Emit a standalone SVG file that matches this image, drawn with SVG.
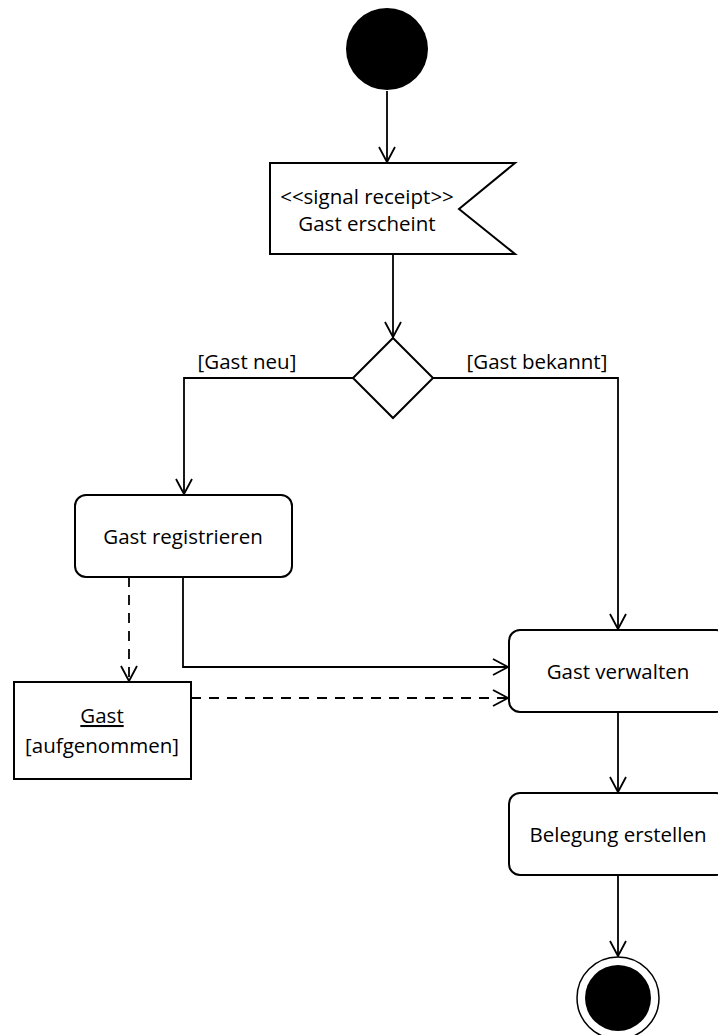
<svg xmlns="http://www.w3.org/2000/svg" width="718" height="1035" viewBox="0 0 718 1035">
  <style>
    .node { fill: #ffffff; stroke: #000000; stroke-width: 2; }
    .lbl { font-family: "Open Sans", "Liberation Sans", sans-serif; font-size: 20.5px; fill: #000000; text-anchor: middle; }
    .flow { fill: none; stroke: #000000; stroke-width: 1.8; }
    .dash { stroke-dasharray: 10 8; }
  </style>
  <defs>
    <marker id="open-arrow" markerUnits="userSpaceOnUse" markerWidth="20" markerHeight="20" viewBox="-16 -10 20 20" refX="0" refY="0" orient="auto">
      <path d="M -15 -8 L 0 0 L -15 8" fill="none" stroke="#000000" stroke-width="1.8"/>
    </marker>
  </defs>

  <rect width="718" height="1035" fill="#ffffff"/>

  <!-- connectors -->
  <g id="connectors">
    <path class="flow" d="M 387 91 L 387 162" marker-end="url(#open-arrow)"/>
    <path class="flow" d="M 393 253 L 393 337" marker-end="url(#open-arrow)"/>
    <path class="flow" d="M 353 378 L 184 378 L 184 494" marker-end="url(#open-arrow)"/>
    <path class="flow" d="M 433 378 L 618 378 L 618 629" marker-end="url(#open-arrow)"/>
    <path class="flow" d="M 183 577 L 183 667 L 508 667" marker-end="url(#open-arrow)"/>
    <path class="flow dash" d="M 129 577 L 129 681" marker-end="url(#open-arrow)"/>
    <path class="flow dash" d="M 191 698 L 508 698" marker-end="url(#open-arrow)"/>
    <path class="flow" d="M 618 712 L 618 792" marker-end="url(#open-arrow)"/>
    <path class="flow" d="M 618 875 L 618 956" marker-end="url(#open-arrow)"/>
    <text class="lbl" x="247" y="369">[Gast neu]</text>
    <text class="lbl" x="537" y="369">[Gast bekannt]</text>
  </g>

  <!-- initial node -->
  <g id="start">
    <circle cx="387" cy="49" r="41" fill="#000000"/>
  </g>

  <!-- signal receipt -->
  <g id="signal">
    <path class="node" d="M 270 163 L 515 163 L 459 209 L 515 254 L 270 254 Z"/>
    <text class="lbl" x="367" y="204">&lt;&lt;signal receipt&gt;&gt;</text>
    <text class="lbl" x="367" y="231">Gast erscheint</text>
  </g>

  <!-- decision -->
  <g id="decision">
    <path class="node" d="M 393 338 L 433 378 L 393 418 L 353 378 Z"/>
  </g>

  <!-- Gast registrieren -->
  <g id="registrieren">
    <rect class="node" x="75" y="495" width="217" height="82" rx="11"/>
    <text class="lbl" x="183" y="544">Gast registrieren</text>
  </g>

  <!-- object node -->
  <g id="objekt">
    <rect class="node" x="14" y="682" width="177" height="97"/>
    <text class="lbl" x="102" y="723" text-decoration="underline">Gast</text>
    <text class="lbl" x="102" y="753">[aufgenommen]</text>
  </g>

  <!-- Gast verwalten -->
  <g id="verwalten">
    <rect class="node" x="509" y="630" width="218" height="82" rx="11"/>
    <text class="lbl" x="618" y="679">Gast verwalten</text>
  </g>

  <!-- Belegung erstellen -->
  <g id="belegung">
    <rect class="node" x="509" y="793" width="218" height="82" rx="11"/>
    <text class="lbl" x="618" y="842">Belegung erstellen</text>
  </g>

  <!-- final node -->
  <g id="end">
    <circle cx="618" cy="998" r="41" fill="#ffffff" stroke="#000000" stroke-width="1.5"/>
    <circle cx="618" cy="998" r="33" fill="#000000"/>
  </g>
</svg>
